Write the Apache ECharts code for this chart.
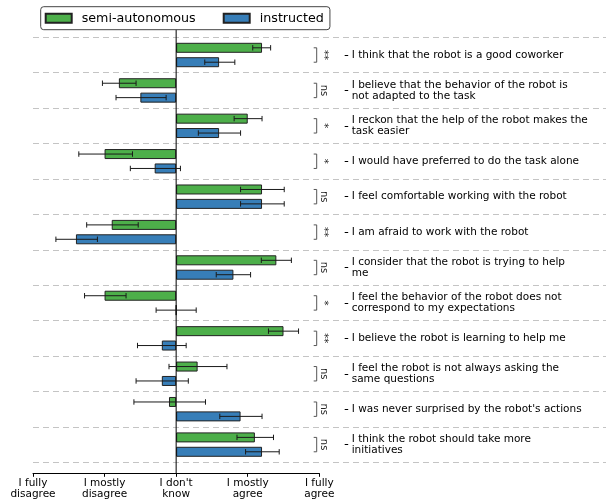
<!DOCTYPE html>
<html>
<head>
<meta charset="utf-8">
<script src="https://cdn.jsdelivr.net/npm/echarts@6/dist/echarts.min.js"></script>
<style>
html,body{margin:0;padding:0;background:#fff;}
#chart{width:606px;height:504px;}
</style>
</head>
<body>
<div id="chart"></div>
<script>
const statements = [
  'I think that the robot is a good coworker',
  'I believe that the behavior of the robot is\nnot adapted to the task',
  'I reckon that the help of the robot makes the\ntask easier',
  'I would have preferred to do the task alone',
  'I feel comfortable working with the robot',
  'I am afraid to work with the robot',
  'I consider that the robot is trying to help\nme',
  'I feel the behavior of the robot does not\ncorrespond to my expectations',
  'I believe the robot is learning to help me',
  'I feel the robot is not always asking the\nsame questions',
  "I was never surprised by the robot's actions",
  'I think the robot should take more\ninitiatives'
];
const significance = ['**', 'ns', '*', '*', 'ns', '**', 'ns', '*', '**', 'ns', 'ns', 'ns'];

const semiMean  = [1.2, -0.8, 1.0, -1.0, 1.2, -0.9, 1.4, -1.0, 1.5, 0.3, -0.1, 1.1];
const semiLow   = [1.07, -1.03, 0.81, -1.36, 0.90, -1.25, 1.19, -1.28, 1.29, -0.10, -0.59, 0.85];
const semiHigh  = [1.32, -0.56, 1.20, -0.61, 1.51, -0.53, 1.61, -0.70, 1.71, 0.71, 0.41, 1.36];

const instrMean = [0.6, -0.5, 0.6, -0.3, 1.2, -1.4, 0.8, 0.0, -0.2, -0.2, 0.9, 1.2];
const instrLow  = [0.40, -0.84, 0.31, -0.64, 0.90, -1.68, 0.56, -0.28, -0.54, -0.56, 0.61, 0.97];
const instrHigh = [0.82, -0.14, 0.90, 0.06, 1.51, -1.10, 1.04, 0.28, 0.14, 0.17, 1.20, 1.44];

const tickLabels = ['I fully\ndisagree', 'I mostly\ndisagree', "I don't\nknow", 'I mostly\nagree', 'I fully\nagree'];
const tickValues = [-2, -1, 0, 1, 2];

const FONT = 'DejaVu Sans';
const GREEN = '#4daf4a';
const BLUE = '#377eb8';

const errorData = statements.map((s, i) => [i, semiLow[i], semiHigh[i], instrLow[i], instrHigh[i]]);

const chart = echarts.init(document.getElementById('chart'), null, {renderer: 'canvas'});

function renderExtras(params, api) {
  const i = api.value(0);
  const center = api.coord([0, i]);
  const yc = center[1];
  const yG = yc - 7.2;
  const yB = yc + 7.2;
  const lineStyle = {stroke: '#1a1a1a', lineWidth: 1};
  const children = [];
  function errBar(lo, hi, y) {
    const x1 = api.coord([lo, i])[0];
    const x2 = api.coord([hi, i])[0];
    children.push({type: 'line', shape: {x1: x1, y1: y, x2: x2, y2: y}, style: lineStyle});
    children.push({type: 'line', shape: {x1: x1, y1: y - 2.7, x2: x1, y2: y + 2.7}, style: lineStyle});
    children.push({type: 'line', shape: {x1: x2, y1: y - 2.7, x2: x2, y2: y + 2.7}, style: lineStyle});
  }
  errBar(api.value(1), api.value(2), yG);
  errBar(api.value(3), api.value(4), yB);
  const xEnd = api.coord([2, i])[0];
  const bx = xEnd - 2.6;
  children.push({
    type: 'polyline',
    shape: {points: [[bx - 3, yG], [bx, yG], [bx, yB], [bx - 3, yB]]},
    style: {stroke: '#555', lineWidth: 1, fill: null}
  });
  children.push({
    type: 'text',
    x: xEnd + 4.2,
    y: yc,
    rotation: -Math.PI / 2,
    style: {
      text: significance[i],
      fontFamily: FONT,
      fontSize: 10,
      fill: '#222',
      align: 'center',
      verticalAlign: 'middle'
    }
  });
  if (i === 0) {
    const cs = params.coordSys;
    children.push({
      type: 'line',
      shape: {x1: center[0], y1: cs.y - 26, x2: center[0], y2: cs.y + cs.height + 11},
      style: {stroke: '#000', lineWidth: 1}
    });
  }
  return {type: 'group', children: children};
}

const option = {
  animation: false,
  backgroundColor: '#fff',
  textStyle: {fontFamily: FONT},
  legend: {
    left: 40.7,
    top: 6.7,
    orient: 'horizontal',
    icon: 'rect',
    padding: [5, 6, 5, 4],
    itemWidth: 26,
    itemHeight: 9,
    itemGap: 27,
    borderColor: '#444',
    borderWidth: 1,
    borderRadius: 3,
    backgroundColor: '#fff',
    textStyle: {fontFamily: FONT, fontSize: 12.7, color: '#000', padding: [0, 0, 0, 5]},
    data: ['semi-autonomous', 'instructed']
  },
  grid: [
    {left: 33, right: 0, top: 37.3, height: 425},
    {left: 33, width: 286.3, top: 37.3, height: 425},
    {left: 33, width: 311.7, top: 37.3, height: 425}
  ],
  xAxis: [
    {gridIndex: 0, type: 'value', min: 0, max: 1, show: false},
    {
      gridIndex: 1, type: 'value', min: -2, max: 2, interval: 1, offset: 11,
      axisLine: {show: true, onZero: false, lineStyle: {color: '#000', width: 1}},
      axisTick: {show: true, length: 3.5, lineStyle: {color: '#000'}},
      axisLabel: {
        show: true, margin: 5, fontFamily: FONT, fontSize: 10.5, lineHeight: 10.7, color: '#000',
        formatter: function (v) { const k = tickValues.indexOf(v); return k >= 0 ? tickLabels[k] : ''; }
      },
      splitLine: {show: false}
    },
    {gridIndex: 2, type: 'value', min: -2, max: 2, show: false}
  ],
  yAxis: [
    {
      gridIndex: 0, type: 'category', inverse: true, data: statements,
      axisLine: {show: false, onZero: false}, axisTick: {show: false}, axisLabel: {show: false},
      splitLine: {show: true, lineStyle: {type: [6, 4], color: '#c4c4c4', width: 1}}
    },
    {
      gridIndex: 1, type: 'category', inverse: true, data: statements,
      axisLine: {show: false, onZero: false}, axisTick: {show: false}, axisLabel: {show: false}, splitLine: {show: false}
    },
    {
      gridIndex: 2, type: 'category', inverse: true, data: statements, position: 'right',
      axisLine: {show: false, onZero: false},
      axisTick: {show: true, alignWithLabel: true, length: 3.5, lineStyle: {color: '#000'}},
      axisLabel: {show: true, margin: 7, fontFamily: FONT, fontSize: 10.5, lineHeight: 10.7, color: '#000', align: 'left'},
      splitLine: {show: false}
    }
  ],
  series: [
    {
      name: 'semi-autonomous', type: 'bar', xAxisIndex: 1, yAxisIndex: 1,
      data: semiMean, barWidth: 10, barGap: '44%',
      itemStyle: {color: GREEN, borderColor: '#222', borderWidth: 1}
    },
    {
      name: 'instructed', type: 'bar', xAxisIndex: 1, yAxisIndex: 1,
      data: instrMean, barWidth: 10, barGap: '44%',
      itemStyle: {color: BLUE, borderColor: '#222', borderWidth: 1}
    },
    {
      type: 'custom', xAxisIndex: 1, yAxisIndex: 1, clip: false, silent: true,
      encode: {y: 0, x: [1, 2, 3, 4]},
      data: errorData,
      renderItem: renderExtras,
      z: 3
    }
  ]
};
chart.setOption(option);
</script>
</body>
</html>
